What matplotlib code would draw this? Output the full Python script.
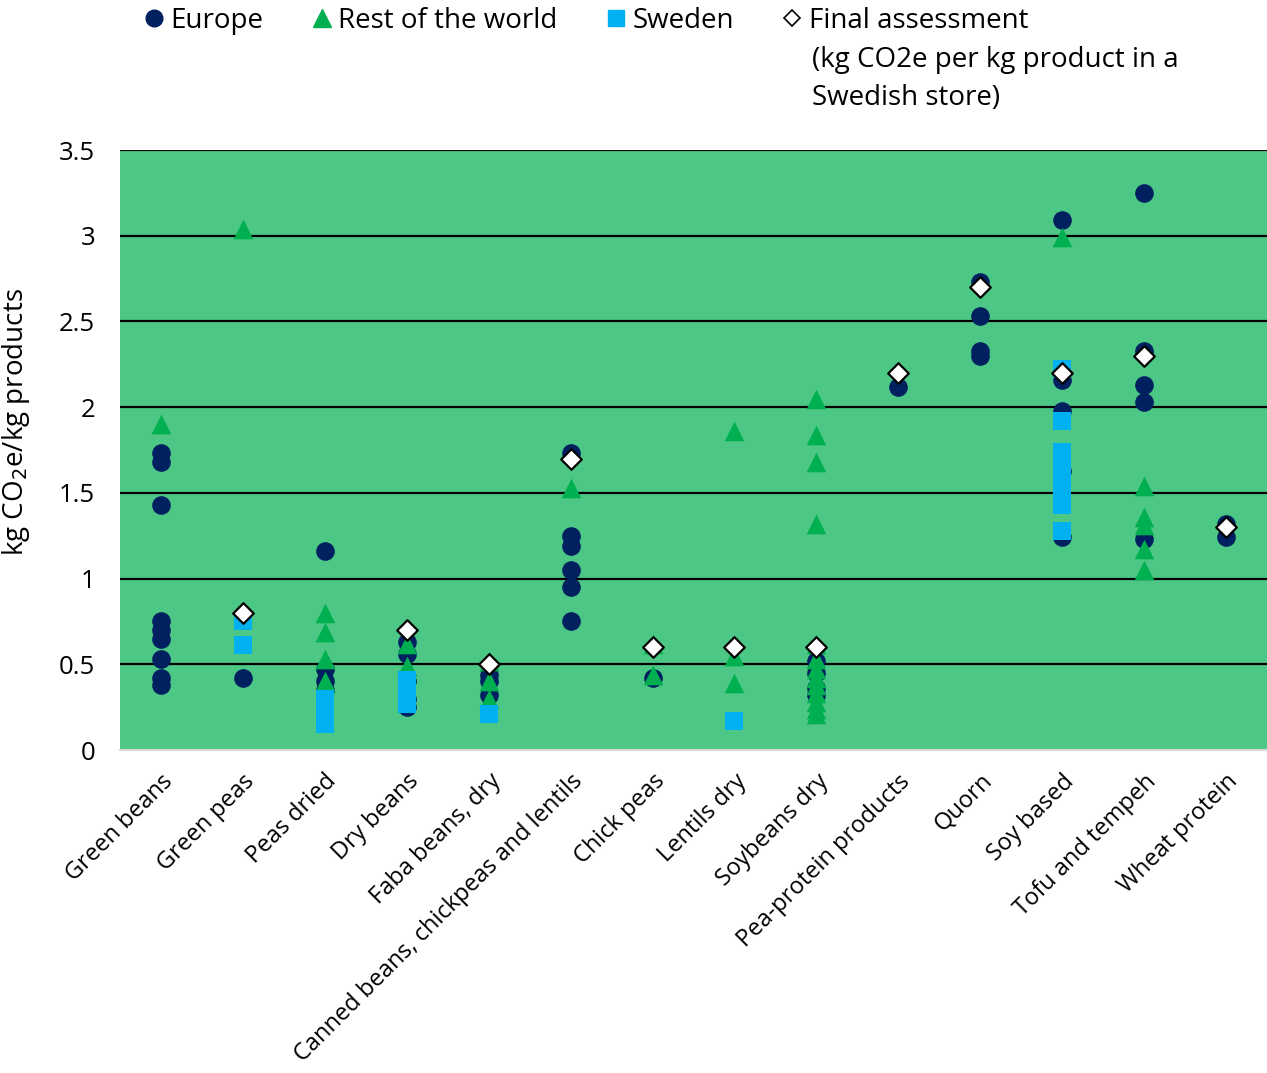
"""Climate impact of legumes and plant-based protein products by origin."""
import numpy as np
import matplotlib
matplotlib.use("Agg")
import matplotlib.pyplot as plt
from matplotlib.lines import Line2D

plt.rcParams["font.family"] = ["Open Sans", "DejaVu Sans"]

categories = [
    "Green beans", "Green peas", "Peas dried", "Dry beans", "Faba beans, dry",
    "Canned beans, chickpeas and lentils", "Chick peas", "Lentils dry",
    "Soybeans dry", "Pea-protein products", "Quorn", "Soy based",
    "Tofu and tempeh", "Wheat protein",
]

europe = [
    [1.73, 1.68, 1.43, 0.75, 0.70, 0.65, 0.53, 0.42, 0.38],
    [0.42],
    [1.16, 0.47, 0.40, 0.35],
    [0.63, 0.56, 0.40, 0.30, 0.25],
    [0.44, 0.40, 0.32],
    [1.73, 1.25, 1.19, 1.05, 0.95, 0.75],
    [0.42],
    [],
    [0.52, 0.45, 0.36, 0.32],
    [2.12],
    [2.73, 2.53, 2.33, 2.30],
    [3.09, 2.16, 1.98, 1.63, 1.24],
    [3.25, 2.33, 2.13, 2.03, 1.23],
    [1.32, 1.24],
]

rest_of_world = [
    [1.90],
    [3.04],
    [0.80, 0.69, 0.53, 0.40],
    [0.62, 0.49],
    [0.52, 0.40, 0.30],
    [1.53],
    [0.62, 0.44],
    [1.86, 0.55, 0.39],
    [2.05, 1.84, 1.68, 1.32, 0.62, 0.53, 0.47, 0.42, 0.38, 0.33, 0.28, 0.24, 0.21],
    [],
    [],
    [2.99],
    [1.54, 1.36, 1.31, 1.17, 1.05],
    [],
]

sweden = [
    [],
    [0.75, 0.61],
    [0.30, 0.25, 0.20, 0.15],
    [0.41, 0.36, 0.31, 0.27],
    [0.21],
    [],
    [],
    [0.17],
    [],
    [],
    [],
    [2.22, 1.92, 1.74, 1.68, 1.58, 1.52, 1.43, 1.28],
    [],
    [],
]

final_assessment = [np.nan, 0.80, np.nan, 0.70, 0.50, 1.70, 0.60, 0.60, 0.60,
                    2.20, 2.70, 2.20, 2.30, 1.30]

y_ticks = [0, 0.5, 1, 1.5, 2, 2.5, 3, 3.5]
y_tick_labels = ["0", "0.5", "1", "1.5", "2", "2.5", "3", "3.5"]

BG = "#4DC785"
NAVY = "#002060"
GREEN = "#00B050"
BLUE = "#00B0F0"


def flatten(groups):
    xs, ys = [], []
    for i, vals in enumerate(groups):
        xs.extend([i] * len(vals))
        ys.extend(vals)
    return xs, ys


fig = plt.figure(figsize=(12.67, 10.73), dpi=100)
ax = fig.add_axes([120 / 1267, 1 - 750 / 1073, 1 - 120 / 1267, 600 / 1073])
ax.set_facecolor(BG)

x, y = flatten(europe)
ax.scatter(x, y, s=180, marker="o", color=NAVY, linewidths=0, zorder=3)
x, y = flatten(rest_of_world)
ax.scatter(x, y, s=200, marker="^", color=GREEN, linewidths=0, zorder=4)
x, y = flatten(sweden)
ax.scatter(x, y, s=170, marker="s", color=BLUE, linewidths=0, zorder=5)
ax.scatter(range(len(categories)), final_assessment, s=110, marker="D",
           facecolor="white", edgecolor="black", linewidths=1.6, zorder=6)

ax.set_xlim(-0.5, len(categories) - 0.5)
ax.set_ylim(0, 3.5)
ax.set_yticks(y_ticks)
ax.set_yticklabels(y_tick_labels)
for v in y_ticks[1:]:
    ax.axhline(v, color="black", lw=1.6, zorder=2)

ax.set_xticks(range(len(categories)))
ax.set_xticklabels(categories, rotation=45, ha="right", va="top",
                   rotation_mode="anchor", fontsize=17)
ax.tick_params(axis="x", length=0, pad=14)
ax.tick_params(axis="y", length=0, pad=18, labelsize=18.5)

for side in ["top", "left", "right"]:
    ax.spines[side].set_visible(False)
ax.spines["bottom"].set_color("#d9d9d9")
ax.spines["bottom"].set_linewidth(1.5)

ax.set_ylabel("kg CO$_2$e/kg products", fontsize=20)
ax.yaxis.set_label_coords(-0.077, 0.547)

handles = [
    Line2D([], [], ls="", marker="o", ms=12, color=NAVY),
    Line2D([], [], ls="", marker="^", ms=13, color=GREEN),
    Line2D([], [], ls="", marker="s", ms=11, color=BLUE),
    Line2D([], [], ls="", marker="D", ms=8.5, markerfacecolor="white",
           markeredgecolor="black", markeredgewidth=1.2),
]
labels = ["Europe", "Rest of the world", "Sweden", "Final assessment"]
fig.legend(handles, labels, ncol=4, frameon=False, fontsize=20,
           loc="upper left", bbox_to_anchor=(0.0906, 1.017),
           handletextpad=0.1, columnspacing=1.6, handlelength=1.0)
fig.text(812 / 1267, 1 - 79 / 1073, "(kg CO2e per kg product in a\nSwedish store)",
         ha="left", va="center", fontsize=20, linespacing=1.45)

fig.savefig("out.png", dpi=100)
